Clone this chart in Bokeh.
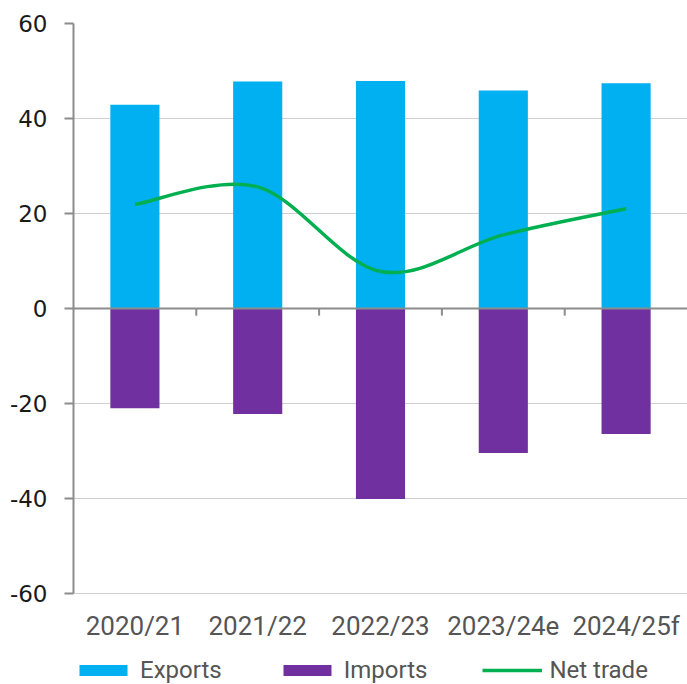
from bokeh.plotting import figure
from bokeh.models import Range1d, FixedTicker, Span, Legend, LegendItem
from bokeh.embed import file_html
from bokeh.resources import INLINE

categories = ["2020/21", "2021/22", "2022/23", "2023/24e", "2024/25f"]
exports = [42.9, 47.8, 47.9, 45.9, 47.4]
imports = [-21.0, -22.2, -40.1, -30.4, -26.4]
net_trade = [21.9, 25.6, 7.8, 15.5, 21.0]
y_ticks = [-60, -40, -20, 0, 20, 40, 60]

FONT = "Roboto"
n = len(categories)
xc = [i + 0.5 for i in range(n)]

# plot area: value axis spans 570px for -60..60; frame extends further down to hold labels and legend
AXIS_PX = 570
FRAME_PX = 661
y_top = max(y_ticks)
y_bot_axis = min(y_ticks)
y_bottom = y_top - FRAME_PX * (y_top - y_bot_axis) / AXIS_PX

p = figure(frame_width=614, frame_height=FRAME_PX, output_backend="svg", toolbar_location=None,
           x_range=Range1d(0, n), y_range=Range1d(y_bottom, y_top),
           min_border_left=73, min_border_right=0, min_border_top=23, min_border_bottom=0)
p.outline_line_color = None
p.background_fill_color = "white"

# bars
r_exp = p.vbar(x=xc, top=exports, bottom=0, width=0.4, fill_color="#00b0f0", line_color=None)
r_imp = p.vbar(x=xc, top=0, bottom=imports, width=0.4, fill_color="#7030a0", line_color=None)

# smoothed net trade line (cubic bezier through the data points)
x0s, y0s, x1s, y1s, cx0s, cy0s, cx1s, cy1s = [], [], [], [], [], [], [], []
for i in range(n - 1):
    pm = max(i - 1, 0)
    pp = min(i + 2, n - 1)
    x0s.append(xc[i]); y0s.append(net_trade[i])
    x1s.append(xc[i + 1]); y1s.append(net_trade[i + 1])
    cx0s.append(xc[i] + (xc[i + 1] - xc[pm]) / 6)
    cy0s.append(net_trade[i] + (net_trade[i + 1] - net_trade[pm]) / 6)
    cx1s.append(xc[i + 1] - (xc[pp] - xc[i]) / 6)
    cy1s.append(net_trade[i + 1] - (net_trade[pp] - net_trade[i]) / 6)
r_net = p.bezier(x0=x0s, y0=y0s, x1=x1s, y1=y1s, cx0=cx0s, cy0=cy0s, cx1=cx1s, cy1=cy1s,
                 line_color="#00b050", line_width=3.5)

# zero line and category separator ticks
p.add_layout(Span(location=0, dimension="width", line_color="#8c8c8c", line_width=2))
bounds = list(range(1, n))
p.segment(x0=bounds, x1=bounds, y0=[0] * len(bounds), y1=[-1.5] * len(bounds),
          line_color="#8c8c8c", line_width=2)

# y axis
p.yaxis.ticker = FixedTicker(ticks=y_ticks)
p.yaxis.bounds = (y_bot_axis, y_top)
p.yaxis.axis_line_color = "#8c8c8c"
p.yaxis.axis_line_width = 2
p.yaxis.major_tick_line_color = "#8c8c8c"
p.yaxis.major_tick_line_width = 2
p.yaxis.major_tick_out = 9
p.yaxis.major_tick_in = 0
p.yaxis.minor_tick_line_color = None
p.yaxis.major_label_standoff = 17
p.yaxis.major_label_text_font = "DejaVu Sans"
p.yaxis.major_label_text_font_size = "23px"
p.yaxis.major_label_text_color = "#1a1a1a"
p.yaxis.major_label_overrides = {v: str(v) for v in y_ticks}

# x axis (labels drawn at the bottom of the value axis)
p.xaxis.fixed_location = y_bot_axis
p.xaxis.ticker = FixedTicker(ticks=xc)
p.xaxis.major_label_overrides = {x: c for x, c in zip(xc, categories)}
p.xaxis.axis_line_color = None
p.xaxis.major_tick_line_color = None
p.xaxis.minor_tick_line_color = None
p.xaxis.major_tick_out = 0
p.xaxis.major_label_standoff = 17
p.xaxis.major_label_text_font = FONT
p.xaxis.major_label_text_font_size = "26px"
p.xaxis.major_label_text_color = "#555555"

# grid
p.xgrid.grid_line_color = None
p.ygrid.ticker = FixedTicker(ticks=[v for v in y_ticks if v != 0])
p.ygrid.grid_line_color = "#d0d0d0"
p.ygrid.grid_line_width = 1

legend = Legend(items=[LegendItem(label="Exports", renderers=[r_exp]),
                       LegendItem(label="Imports", renderers=[r_imp]),
                       LegendItem(label="Net trade", renderers=[r_net])],
                orientation="horizontal", location=(0, 0),
                glyph_width=60, glyph_height=14, label_standoff=7, spacing=55,
                label_text_font=FONT, label_text_font_size="24px", label_text_color="#555555",
                border_line_color=None, background_fill_alpha=0, padding=0, margin=0)
p.add_layout(legend)

open("out.html", "w").write(file_html(p, INLINE))
